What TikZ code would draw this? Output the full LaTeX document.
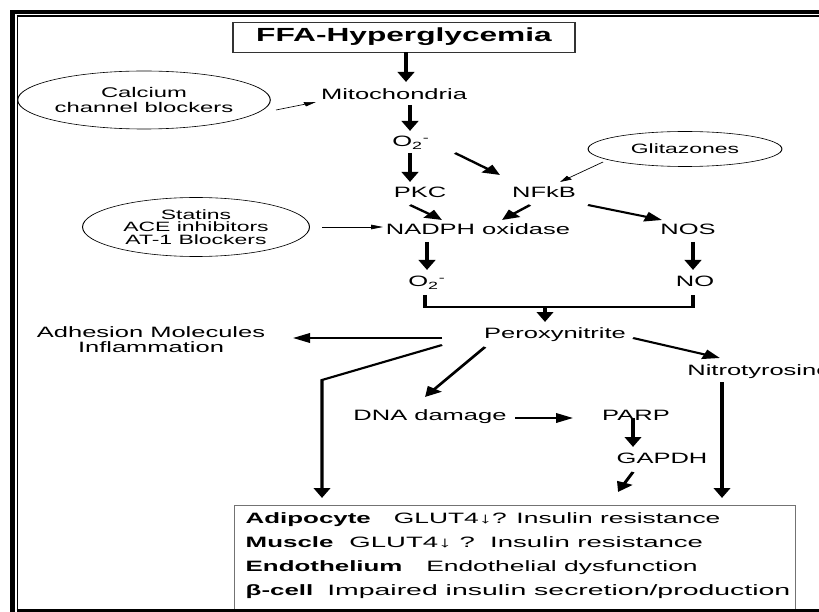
\documentclass[tikz,border=0pt]{standalone}
\usepackage{fontspec}
\setmainfont{Liberation Sans}
\newfontfamily\titlefont[FakeStretch=0.98]{Liberation Sans}
\newfontfamily\boxbold[FakeStretch=1.015]{Liberation Sans}
\newfontfamily\boxA[FakeStretch=1.035]{Liberation Sans}
\newfontfamily\boxB[FakeStretch=1.08]{Liberation Sans}
\newfontfamily\boxC[FakeStretch=1.115]{Liberation Sans}
\usetikzlibrary{arrows.meta,calc,shapes.geometric}
\begin{document}
\begin{tikzpicture}[x=1pt,y=-1pt]
\useasboundingbox (0,0) rectangle (819,612);
\fill[white] (0,0) rectangle (819,612);
% frame
\draw[line width=5pt] (12.5,612) -- (12.5,10);
\draw[line width=4pt] (10,12) -- (819,12);
\draw[line width=1.6pt] (17.5,612) -- (17.5,15.5);
\draw[line width=1.6pt] (16.7,16.3) -- (819,16.3);
\begin{scope}[transform canvas={xscale=1.7}, x=0.588235pt, y=-1pt,
  txt/.style={inner sep=0pt, font=\fontsize{15}{15}\selectfont},
  ell/.style={draw, ellipse, inner sep=0pt, line width=0.6pt, align=center},
  arr/.style={line width=2pt, -{Triangle[length=10pt,width=9.5pt]}},
  thinarr/.style={line width=0.6pt, -{Triangle[length=7pt,width=4.5pt]}},
  plain/.style={line width=2pt}]
% nodes
\node[draw=black!80, line width=0.9pt, minimum width=201pt, minimum height=30pt, inner sep=0pt,
  font=\titlefont\bfseries\fontsize{19}{19}\selectfont] (ffa) at (404,37) {FFA-Hyperglycemia};
\node[txt, anchor=base] (mito) at (394,100) {Mitochondria};
\node[txt, anchor=base] (o2a) at (411,147) {O\textsubscript{2}\textsuperscript{-}};
\node[txt, anchor=base] (pkc) at (420,198) {PKC};
\node[txt, anchor=base] (nfkb) at (544,198) {NFkB};
\node[txt, anchor=base] (nadph) at (478,235) {NADPH oxidase};
\node[txt, anchor=base] (nos) at (688,235) {NOS};
\node[txt, anchor=base] (o2b) at (427,287) {O\textsubscript{2}\textsuperscript{-}};
\node[txt, anchor=base] (no) at (695,287) {NO};
\node[txt, anchor=base] (perox) at (555,338) {Peroxynitrite};
\node[txt, anchor=base west] (nitro) at (687,375) {Nitrotyrosine};
\node[txt, align=center] (adh) at (151,340) {Adhesion Molecules\\Inflammation};
\node[txt, anchor=base] (dna) at (430,420) {DNA damage};
\node[txt, anchor=base] (parp) at (636,420) {PARP};
\node[txt, anchor=base] (gapdh) at (662,463) {GAPDH};
\node[ell, minimum width=140pt, minimum height=58pt, font=\fontsize{14}{15}\selectfont] (calc) at (144,100) {Calcium\\channel blockers};
\node[ell, minimum width=133.5pt, minimum height=59pt, font=\fontsize{13.5}{12.5}\selectfont] (statins) at (196,227) {Statins\\ACE inhibitors\\AT-1 Blockers};
\node[ell, minimum width=114pt, minimum height=35pt, font=\fontsize{13.5}{15}\selectfont] (glit) at (685,149) {Glitazones};
\node[draw=black!55, line width=0.8pt, anchor=north west, inner xsep=6.5pt, inner ysep=7pt,
  font=\fontsize{15}{24}\selectfont] (res) at (234,505)
  {\parbox[t][100pt][t]{317pt}{%
  \mbox{{\boxbold\bfseries Adipocyte}\hspace{13.5pt}{\boxA GLUT4↓? Insulin resistance}}\\
  \mbox{{\boxbold\bfseries Muscle}\hspace{9.4pt}{\boxB GLUT4↓ ?\ \ Insulin resistance}}\\
  \mbox{{\boxbold\bfseries Endothelium}\hspace{14pt}{\boxA Endothelial dysfunction}}\\
  \mbox{{\boxbold\bfseries β-cell}\hspace{8.2pt}{\boxC Impaired insulin secretion/production}}}};
\coordinate (brk) at (545,307);
% connectors
\draw[arr] ($(ffa.south)+(2,0)$) -- ($(mito.base)+(12,-18)$);
\draw[arr] ($(mito.base)+(16,5)$) -- ($(o2a.base)+(-1,-16)$);
\draw[arr] ($(o2a.base)+(-1,6)$) -- ($(pkc.base)+(-10,-16)$);
\draw[arr] ($(o2a.base)+(44,6)$) -- ($(nfkb.base)+(-44,-23)$);
\draw[thinarr] ($(glit.center)+(-82,13)$) -- ($(nfkb.base)+(16,-16)$);
\draw[thinarr] ($(calc.center)+(132,10)$) -- ($(mito.base)+(-78,2)$);
\draw[arr] ($(pkc.base)+(-10,7)$) -- ($(nadph.base)+(-36,-15)$);
\draw[arr] ($(nfkb.base)+(-14,7)$) -- ($(nadph.base)+(24,-15)$);
\draw[arr] ($(nfkb.base)+(44,7)$) -- ($(nos.base)+(-26,-15)$);
\draw[thinarr] ($(statins.center)+(126,0)$) -- ($(nadph.base)+(-95,-8)$);
\draw[arr] ($(nadph.base)+(-51,7)$) -- ($(o2b.base)+(0,-17)$);
\draw[arr] ($(nos.base)+(5,7)$) -- ($(no.base)+(-2,-17)$);
\draw[plain] ($(o2b.base)+(-2,8)$) |- ($(no.base)+(-2,20)$) -- ($(no.base)+(-2,8)$);
\draw[arr] (brk) -- ($(perox.base)+(-10,-16)$);
\draw[arr] ($(perox.base)+(-113,0)$) -- ($(adh.center)+(142,-2)$);
\draw[arr] ($(perox.base)+(-113,7)$) -- ($(res.north west)+(88,-125)$) -- ($(res.north west)+(88,-7)$);
\draw[arr] ($(perox.base)+(78,0)$) -- ($(nitro.base west)+(33,-17)$);
\draw[arr] ($(perox.base)+(-70,9)$) -- ($(dna.base)+(-5,-23)$);
\draw[arr] ($(dna.base)+(85,-2)$) -- ($(parp.base)+(-63,-2)$);
\draw[arr] ($(parp.base)+(-3,-2)$) -- ($(gapdh.base)+(-29,-16)$);
\draw[arr] ($(gapdh.base)+(-29,9)$) -- ($(res.north west)+(384,-13)$);
\draw[arr] ($(nitro.base west)+(35,7)$) -- ($(res.north west)+(488,-7)$);
\end{scope}
\draw[line width=2.8pt] (16.7,610.6) -- (819,610.6);
\end{tikzpicture}
\end{document}
